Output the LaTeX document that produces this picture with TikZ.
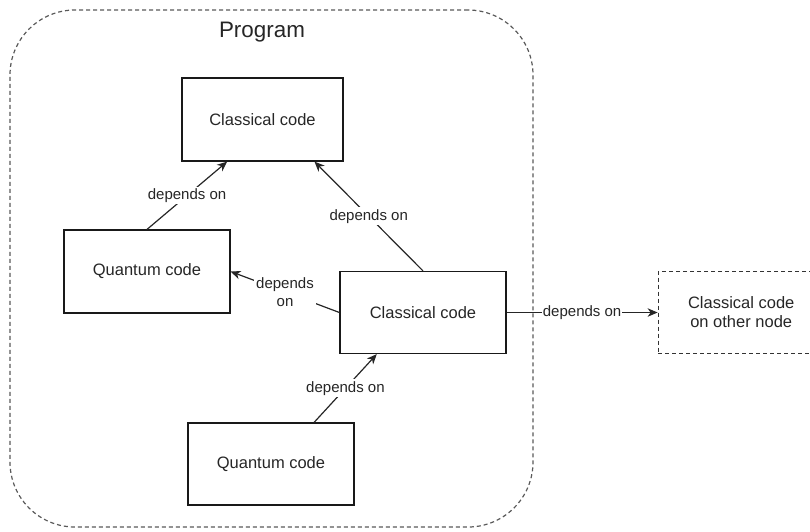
\documentclass[tikz,border=0pt]{standalone}
\usepackage{fontspec}
\setmainfont{Liberation Sans}
\usepackage{tikz}
\usetikzlibrary{arrows.meta, positioning}

\begin{document}
\begin{tikzpicture}[
  x=1pt,
  y=-1pt,
  codebox/.style={
    rectangle,
    draw=black!90,
    line width=1.2pt,
    align=center,
    text=black!85,
    font=\fontsize{16.5}{19}\selectfont,
    minimum width=166pt,
    minimum height=82pt
  },
  classical/.style={codebox},
  quantum/.style={codebox},
  remote/.style={codebox, draw=black!80, dash pattern=on 4pt off 3pt},
  program/.style={
    rectangle,
    draw=black!65,
    line width=1.2pt,
    dash pattern=on 4pt off 3pt,
    rounded corners=65pt,
    minimum width=523pt,
    minimum height=517pt
  },
  title/.style={text=black!85, font=\fontsize{22.4}{26}\selectfont},
  arrow/.style={-{Stealth[length=10pt, width=8.5pt, inset=3pt]}, line width=1.2pt, black!85},
  dep/.style={fill=white, inner sep=2pt, align=center, text=black!85,
    font=\fontsize{15}{18}\selectfont}
]

\useasboundingbox (0,0) rectangle (810,531);

\node[program] (prog) at (271.5,268.5) {};
\node[title] (progname) at (262,32) {Program};

\node[classical, minimum width=161pt, minimum height=83pt] (top) at (262.5,119.5) {Classical code};

\node[quantum, minimum height=83pt] (qleft) at (147,271.5) {Quantum code};

\node[classical] (mid) at (423,312.5) {Classical code};

\node[quantum] (qbottom) at (271,464) {Quantum code};

\node[remote, right=151pt of mid] (other) {Classical code\\on other node};

\draw[arrow] (qleft.north) -- node[dep] (d1) {depends on} (top.230);
\draw[arrow] (mid.north) -- node[dep] (d2) {depends on} (top.-39);
\draw[arrow] (mid.west) -- node[dep] (d3) {depends\\on} (qleft.east);
\draw[arrow] (qbottom.44) -- node[dep] (d4) {depends on} (mid.222);
\draw[arrow] (mid.east) -- node[dep, inner sep=0.5pt] (d5) {depends on} (other.west);

\end{tikzpicture}
\end{document}
